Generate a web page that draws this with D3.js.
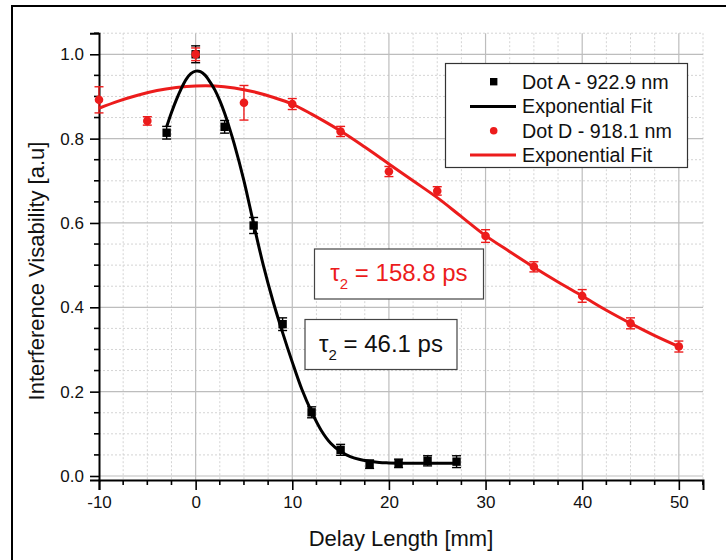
<!DOCTYPE html>
<html>
<head>
<meta charset="utf-8">
<script src="https://cdn.jsdelivr.net/npm/d3@7"></script>
<style>
  html, body { margin: 0; padding: 0; background: #fff; }
  svg { display: block; font-family: "Liberation Sans", Arial, sans-serif; }
</style>
</head>
<body>
<svg id="chart" width="726" height="560"></svg>
<script>
// Measured visibility, Dot A (922.9 nm)
const dotAx = [-3, 0, 3, 6, 9, 12, 15, 18, 21, 24, 27];
const dotAy = [0.814, 1.0, 0.828, 0.594, 0.360, 0.151, 0.062, 0.028, 0.030, 0.036, 0.034];
const dotAerr = [0.015, 0.02, 0.015, 0.019, 0.015, 0.013, 0.013, 0.010, 0.010, 0.012, 0.014];

// Measured visibility, Dot D (918.1 nm)
const dotDx = [-10, -5, 0, 5, 10, 15, 20, 25, 30, 35, 40, 45, 50];
const dotDy = [0.892, 0.842, 1.0, 0.885, 0.882, 0.817, 0.722, 0.676, 0.569, 0.496, 0.427, 0.362, 0.307];
const dotDerr = [0.031, 0.010, 0.015, 0.041, 0.013, 0.012, 0.012, 0.010, 0.015, 0.012, 0.015, 0.013, 0.013];

// Fit curve, Dot A
const fitAx = [-3, -2.5, -2, -1.5, -1, -0.5, 0, 0.5, 1, 1.5, 2, 2.5, 3, 3.5, 4, 5, 6, 7, 8, 9, 10, 11, 12, 13, 14, 15, 16, 17, 18, 19, 20, 22, 24, 27];
const fitAy = [0.828, 0.862, 0.892, 0.918, 0.940, 0.954, 0.960, 0.959, 0.950, 0.934, 0.915, 0.890, 0.860, 0.825, 0.787, 0.700, 0.598, 0.500, 0.415, 0.340, 0.270, 0.205, 0.152, 0.108, 0.077, 0.058, 0.046, 0.039, 0.035, 0.032, 0.031, 0.030, 0.030, 0.030];

// Fit curve, Dot D
const fitDx = [-10, -8, -6, -4, -2, 0, 2, 4, 6, 8, 10, 12, 15, 17.5, 20, 22.5, 25, 27.5, 30, 32.5, 35, 37.5, 40, 42.5, 45, 47.5, 50];
const fitDy = [0.872, 0.889, 0.903, 0.914, 0.921, 0.925, 0.925, 0.920, 0.911, 0.898, 0.882, 0.858, 0.818, 0.780, 0.740, 0.700, 0.660, 0.615, 0.570, 0.532, 0.495, 0.460, 0.427, 0.393, 0.362, 0.333, 0.307];

// Axis ticks
const xTickLabels = [-10, 0, 10, 20, 30, 40, 50];
const yTickLabels = [0.0, 0.2, 0.4, 0.6, 0.8, 1.0];

const legendLabels = ["Dot A - 922.9 nm", "Exponential Fit", "Dot D - 918.1 nm", "Exponential Fit"];
const tauA = "46.1";
const tauD = "158.8";

const RED = "#ec1c1c";
const BLACK = "#000";

const svg = d3.select("#chart");

const x = d3.scaleLinear().domain([-10, 52.5]).range([99, 703]);
const y = d3.scaleLinear().domain([-0.0095, 1.05]).range([480, 33.2]);

// outer frame (top and left edges)
svg.append("line").attr("x1", 11).attr("x2", 726).attr("y1", 6).attr("y2", 6)
  .attr("stroke", "#000").attr("stroke-width", 2);
svg.append("line").attr("x1", 12).attr("x2", 12).attr("y1", 5).attr("y2", 560)
  .attr("stroke", "#000").attr("stroke-width", 2);

// grid
const grid = svg.append("g");
const xMinor = d3.range(-10, 52.51, 2.5).filter(v => Math.abs(v % 10) > 1e-6);
const yMinor = d3.range(0, 1.0501, 0.05).filter(v => Math.abs(Math.round(v * 100) % 20) > 1e-6);
grid.selectAll(".xmin").data(xMinor).enter().append("line")
  .attr("x1", d => x(d)).attr("x2", d => x(d)).attr("y1", y(1.05)).attr("y2", y(-0.0095))
  .attr("stroke", "#d4d4d4").attr("stroke-width", 1).attr("stroke-dasharray", "2,2");
grid.selectAll(".ymin").data(yMinor).enter().append("line")
  .attr("x1", x(-10)).attr("x2", x(52.5)).attr("y1", d => y(d)).attr("y2", d => y(d))
  .attr("stroke", "#d4d4d4").attr("stroke-width", 1).attr("stroke-dasharray", "2,2");
grid.selectAll(".xmaj").data(xTickLabels.filter(v => v !== -10)).enter().append("line")
  .attr("x1", d => x(d)).attr("x2", d => x(d)).attr("y1", y(1.05)).attr("y2", y(-0.0095))
  .attr("stroke", "#bdbdbd").attr("stroke-width", 1.2);
grid.selectAll(".ymaj").data(yTickLabels).enter().append("line")
  .attr("x1", x(-10)).attr("x2", x(52.5)).attr("y1", d => y(d)).attr("y2", d => y(d))
  .attr("stroke", "#bdbdbd").attr("stroke-width", 1.2);

// axes
const xAxis = d3.axisBottom(x).tickValues(xTickLabels).tickFormat(d => String(d)).tickSize(10).tickPadding(6);
const yAxis = d3.axisLeft(y).tickValues(yTickLabels).tickFormat(d => d.toFixed(1)).tickSize(9).tickPadding(6);

const gx = svg.append("g").attr("transform", `translate(0,${y(-0.0095)})`).call(xAxis);
const gy = svg.append("g").attr("transform", `translate(${x(-10)},0)`).call(yAxis);
[gx, gy].forEach(g => {
  g.select(".domain").attr("stroke", "#000").attr("stroke-width", 2);
  g.selectAll(".tick line").attr("stroke", "#000").attr("stroke-width", 1.6);
  g.selectAll(".tick text").attr("fill", "#111").style("font-size", "17px")
    .style("font-family", "'Liberation Sans', Arial, sans-serif");
});
// minor ticks
gx.selectAll(".minor").data(xMinor).enter().append("line")
  .attr("x1", d => x(d)).attr("x2", d => x(d)).attr("y1", 0).attr("y2", 5)
  .attr("stroke", "#000").attr("stroke-width", 1.6);
gx.append("line").attr("x1", x(52.5)).attr("x2", x(52.5)).attr("y1", 0).attr("y2", 5)
  .attr("stroke", "#000").attr("stroke-width", 1.6);
gy.selectAll(".minor").data(yMinor).enter().append("line")
  .attr("x1", -5).attr("x2", 0).attr("y1", d => y(d)).attr("y2", d => y(d))
  .attr("stroke", "#000").attr("stroke-width", 1.6);

// axis titles
svg.append("text").attr("x", 401).attr("y", 546).attr("text-anchor", "middle")
  .style("font-size", "22px").attr("fill", "#111").text("Delay Length [mm]");
svg.append("text").attr("transform", "translate(44,271) rotate(-90)").attr("text-anchor", "middle")
  .style("font-size", "22px").attr("fill", "#111").text("Interference Visability [a.u]");

const line = d3.line().curve(d3.curveCatmullRom.alpha(0.5)).x(d => x(d[0])).y(d => y(d[1]));

// fit curves
svg.append("path").attr("d", line(d3.zip(fitDx, fitDy)))
  .attr("fill", "none").attr("stroke", RED).attr("stroke-width", 3);
svg.append("path").attr("d", line(d3.zip(fitAx, fitAy)))
  .attr("fill", "none").attr("stroke", BLACK).attr("stroke-width", 3);

function errorBars(xs, ys, es, color) {
  const g = svg.append("g").attr("stroke", color).attr("stroke-width", 1.4).attr("fill", "none");
  const rows = d3.zip(xs, ys, es);
  g.selectAll(".v").data(rows).enter().append("line")
    .attr("x1", d => x(d[0])).attr("x2", d => x(d[0]))
    .attr("y1", d => y(d[1] - d[2])).attr("y2", d => y(d[1] + d[2]));
  [-1, 1].forEach(s => {
    g.selectAll(".c" + s).data(rows).enter().append("line")
      .attr("x1", d => x(d[0]) - 4.5).attr("x2", d => x(d[0]) + 4.5)
      .attr("y1", d => y(d[1] + s * d[2])).attr("y2", d => y(d[1] + s * d[2]));
  });
}

// Dot A markers
errorBars(dotAx, dotAy, dotAerr, BLACK);
svg.append("g").selectAll("rect").data(d3.zip(dotAx, dotAy)).enter().append("rect")
  .attr("x", d => x(d[0]) - 4.2).attr("y", d => y(d[1]) - 4.2)
  .attr("width", 8.4).attr("height", 8.4).attr("fill", BLACK);

// Dot D markers
errorBars(dotDx, dotDy, dotDerr, RED);
svg.append("g").selectAll("circle").data(d3.zip(dotDx, dotDy)).enter().append("circle")
  .attr("cx", d => x(d[0])).attr("cy", d => y(d[1])).attr("r", 4.3).attr("fill", RED);

// legend
const lg = svg.append("g");
lg.append("rect").attr("x", 445.5).attr("y", 63.5).attr("width", 242).attr("height", 104)
  .attr("fill", "#fff").attr("stroke", "#333").attr("stroke-width", 1.2);
const rowY = [81.7, 106.5, 130.7, 155];
legendLabels.forEach((t, i) => {
  lg.append("text").attr("x", 522).attr("y", rowY[i] + 6.8).style("font-size", "19.7px")
    .attr("fill", "#111").text(t);
});
lg.append("rect").attr("x", 490).attr("y", rowY[0] - 3.7).attr("width", 7.4).attr("height", 7.4).attr("fill", BLACK);
lg.append("line").attr("x1", 470).attr("x2", 516).attr("y1", rowY[1]).attr("y2", rowY[1])
  .attr("stroke", BLACK).attr("stroke-width", 3);
lg.append("circle").attr("cx", 493.7).attr("cy", rowY[2]).attr("r", 3.8).attr("fill", RED);
lg.append("line").attr("x1", 470).attr("x2", 516).attr("y1", rowY[3]).attr("y2", rowY[3])
  .attr("stroke", RED).attr("stroke-width", 3);

// lifetime annotations
function tauBox(bx, by, bw, bh, baseY, value, color) {
  svg.append("rect").attr("x", bx).attr("y", by).attr("width", bw).attr("height", bh)
    .attr("fill", "#fff").attr("stroke", "#444").attr("stroke-width", 1.2);
  const t = svg.append("text").attr("x", bx + bw / 2).attr("y", baseY).attr("text-anchor", "middle")
    .attr("fill", color).style("font-size", "24px").style("white-space", "pre");
  t.append("tspan").text("\u03c4");
  t.append("tspan").attr("dy", 8).style("font-size", "15px").text("2");
  t.append("tspan").attr("dy", -8).text(" = " + value + " ps");
}
tauBox(314.5, 249, 169, 50, 281, tauD, RED);
tauBox(305, 319.5, 152, 50, 352, tauA, "#111");
</script>
</body>
</html>
